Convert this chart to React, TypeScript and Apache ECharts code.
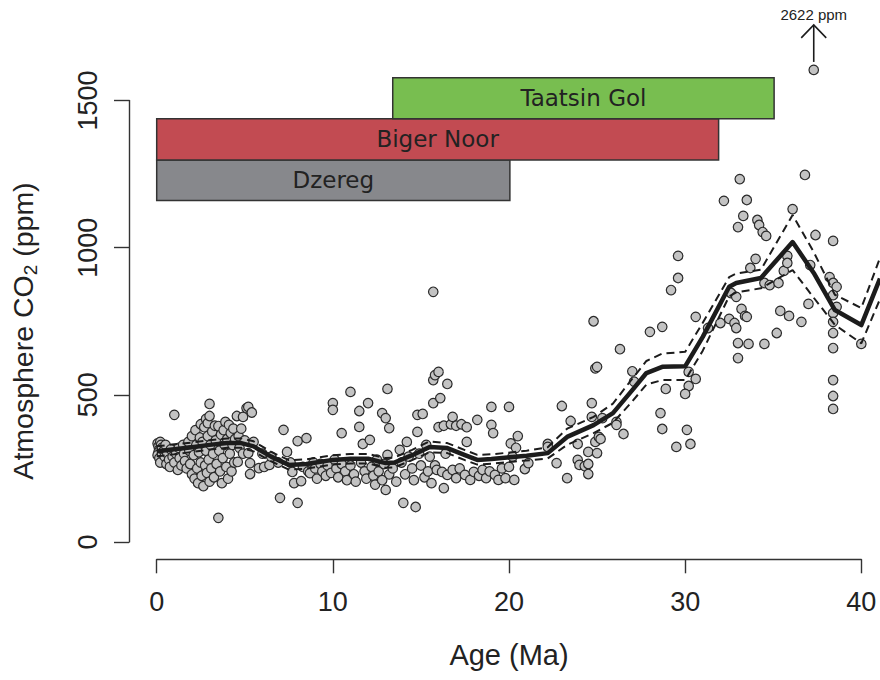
import React, { useEffect, useRef } from "react";
import * as echarts from "echarts";

// ---- data ----
const co2Points: [number, number][] = [
  [0.05, 335], [0.1, 325], [0.15, 315], [0.1, 305], [0.2, 340], [0.25, 330], [0.3, 320], [0.05, 295],
  [0.15, 285], [0.2, 270], [0.3, 300], [0.4, 310], [0.45, 290], [0.5, 330], [0.55, 265], [0.6, 300],
  [0.7, 280], [0.75, 255], [0.8, 315], [0.9, 290], [1.0, 432], [1.0, 270], [1.1, 300], [1.2, 245],
  [1.25, 320], [1.3, 285], [1.4, 260], [1.5, 330], [1.55, 300], [1.6, 275], [1.7, 250], [1.8, 340],
  [1.85, 310], [1.9, 265], [2.0, 230], [2.0, 360], [2.1, 295], [2.15, 215], [2.2, 380], [2.25, 330],
  [2.3, 250], [2.35, 200], [2.4, 305], [2.45, 355], [2.5, 270], [2.5, 400], [2.55, 225], [2.6, 340],
  [2.65, 190], [2.7, 390], [2.75, 260], [2.8, 418], [2.8, 310], [2.85, 235], [2.9, 404], [2.9, 360],
  [2.95, 280], [3.0, 469], [3.0, 428], [3.0, 205], [3.05, 330], [3.1, 250], [3.15, 375], [3.2, 300],
  [3.25, 220], [3.3, 395], [3.35, 345], [3.4, 265], [3.5, 394], [3.5, 82], [3.55, 310], [3.6, 240],
  [3.65, 365], [3.7, 200], [3.75, 285], [3.8, 380], [3.85, 330], [3.9, 408], [3.95, 255], [4.0, 350],
  [4.05, 215], [4.1, 398], [4.15, 300], [4.2, 370], [4.25, 240], [4.3, 330], [4.35, 385], [4.4, 270],
  [4.45, 350], [4.55, 428], [4.6, 272], [4.65, 360], [4.7, 320], [4.8, 385], [4.9, 425], [4.9, 300],
  [5.0, 345], [5.1, 455], [5.2, 459], [5.2, 302], [5.3, 231], [5.3, 268], [5.4, 440], [5.5, 340],
  [5.8, 251], [6.1, 255], [6.4, 262], [6.0, 300], [6.5, 290], [6.9, 270], [7.0, 150], [7.2, 381],
  [7.4, 306], [7.6, 270], [7.7, 238], [7.8, 200], [8.0, 133], [8.0, 343], [8.2, 207], [8.5, 353],
  [8.3, 255], [8.6, 240], [8.7, 234], [8.9, 270], [9.0, 250], [9.1, 215], [9.3, 265], [9.4, 240],
  [9.6, 225], [9.7, 260], [9.9, 235], [10.0, 472], [10.0, 449], [10.1, 280], [10.2, 250], [10.3, 220],
  [10.5, 370], [10.5, 265], [10.7, 240], [10.8, 210], [11.0, 510], [11.0, 260], [11.2, 230], [11.3, 205],
  [11.5, 445], [11.5, 391], [11.6, 270], [11.7, 333], [11.8, 240], [11.9, 215], [12.0, 472], [12.1, 347],
  [12.2, 255], [12.3, 225], [12.4, 195], [12.5, 280], [12.6, 240], [12.8, 438], [12.8, 210], [12.9, 265],
  [13.0, 421], [13.0, 177], [13.1, 520], [13.1, 296], [13.2, 387], [13.2, 230],
  [13.4, 250], [13.6, 205], [13.8, 313], [13.9, 270], [14.0, 133], [14.1, 230], [14.2, 340], [14.3, 290],
  [14.5, 250], [14.6, 210], [14.7, 119], [14.8, 432], [14.8, 374], [14.9, 300], [15.0, 260], [15.1, 435],
  [15.2, 220], [15.3, 330], [15.4, 240], [15.5, 290], [15.6, 200], [15.7, 850], [15.7, 550], [15.7, 472],
  [15.8, 567], [15.8, 260], [15.9, 245], [16.0, 578], [16.0, 390], [16.1, 489], [16.2, 238], [16.3, 183],
  [16.3, 395], [16.4, 300], [16.5, 537], [16.5, 228], [16.7, 400], [16.8, 425], [16.8, 245], [17.0, 395],
  [17.0, 217], [17.2, 250], [17.3, 400], [17.5, 228], [17.6, 340], [17.6, 390], [17.8, 211], [18.0, 238],
  [18.2, 415], [18.3, 225], [18.5, 245], [18.7, 217], [18.9, 240], [19.0, 459], [19.0, 398], [19.1, 370],
  [19.2, 228], [19.4, 211], [19.6, 250], [19.8, 217], [20.0, 459], [20.0, 255], [20.1, 335], [20.2, 290],
  [20.3, 211], [20.4, 320], [20.5, 360], [20.9, 248], [21.1, 268],
  [22.2, 333], [22.2, 323], [22.7, 268], [23.0, 462], [23.3, 217], [23.5, 411], [23.9, 333], [23.9, 279],
  [24.0, 262], [24.3, 258], [24.5, 265], [24.5, 231], [24.5, 306], [24.7, 472], [24.7, 425], [24.8, 750],
  [24.9, 340], [24.9, 590], [25.0, 302], [25.0, 595], [25.1, 357], [25.2, 350], [25.3, 421], [26.1, 408],
  [26.1, 398], [26.3, 655], [26.5, 367], [27.0, 580], [27.1, 545],
  [28.0, 714], [28.7, 731], [29.6, 972], [29.6, 897], [29.2, 856], [28.9, 520], [28.6, 438], [28.7, 384],
  [30.1, 381], [29.5, 323], [30.3, 333], [30.2, 578], [30.6, 554], [30.2, 530], [30.0, 503], [30.6, 765],
  [31.3, 727], [32.0, 744], [32.5, 758], [32.8, 744], [32.9, 727], [32.6, 846], [32.9, 833], [33.2, 792],
  [33.4, 768], [33.5, 765], [33.0, 676], [33.6, 673], [33.0, 625], [32.2, 1159], [33.1, 1233], [33.5, 1162],
  [33.3, 1108], [33.0, 1070], [34.1, 1094], [34.2, 1077], [34.4, 1053], [34.6, 1040], [34.0, 962], [33.7, 931],
  [34.5, 673], [35.2, 710], [35.4, 785], [35.9, 768], [36.6, 748], [35.6, 921], [34.5, 880], [34.8, 873],
  [35.3, 880], [35.8, 972], [35.8, 948], [36.1, 1131], [36.8, 1247], [37.4, 1043], [37.0, 809], [37.1, 941],
  [38.4, 1023], [38.2, 900], [38.4, 880], [38.6, 867], [38.4, 839], [38.6, 799], [38.4, 778], [38.4, 748],
  [38.4, 710], [38.4, 659], [38.4, 550], [38.4, 496], [38.4, 452], [40.0, 673], [37.3, 1604],
];

const fitAges = [0, 1, 2, 3, 4, 4.8, 5.5, 6.5, 7.5, 8.5, 10, 11, 12, 13, 13.5, 14.5, 15.5, 16.5, 17.5, 18.2,
  19, 20.2, 21, 22.2, 23.3, 24.8, 25.9, 27, 27.8, 28.7, 30, 31, 32.5, 32.9, 34.3, 36.1, 37.3, 38.5, 40, 41.06];
const fitMid = [308, 315, 322, 330, 336, 336, 325, 290, 262, 265, 279, 283, 283, 268, 270, 295, 323, 319, 295, 279,
  282, 289, 293, 302, 357, 397, 438, 516, 574, 595, 597, 697, 867, 880, 897, 1019, 914, 788, 737, 895];
const fitUpper = [325, 332, 338, 346, 352, 352, 342, 306, 278, 281, 295, 299, 299, 285, 287, 313, 342, 336, 312, 296,
  298, 305, 310, 322, 385, 425, 470, 555, 615, 640, 646, 745, 900, 912, 925, 1111, 985, 840, 795, 965];
const fitLower = [291, 298, 306, 314, 320, 320, 308, 274, 246, 249, 263, 267, 267, 252, 254, 278, 305, 302, 278, 263,
  266, 273, 277, 284, 330, 370, 405, 478, 535, 550, 550, 650, 835, 848, 862, 924, 830, 738, 675, 825];

const formationNames = ["Dzereg", "Biger Noor", "Taatsin Gol"];
const formationStart = [0, 0, 13.4];
const formationEnd = [20.05, 31.9, 35.05];
const formationLow = [1160, 1298, 1438];
const formationHigh = [1298, 1438, 1577];

const outlierAge = 37.3;
const outlierArrowFrom = 1631;
const outlierArrowTo = 1757;
const outlierLabel = "2622 ppm";

const xTickInterval = 10;
const yTickInterval = 500;

// ---- styles ----
const formationColors = ["#87888c", "#c24b52", "#78be50"];
const FONT = "'Liberation Sans', Arial, Helvetica, sans-serif";
const AXIS_COLOR = "#333";
const TEXT_COLOR = "#222";

export default function App() {
  const ref = useRef<HTMLDivElement>(null);

  useEffect(() => {
    if (!ref.current) return;
    const chart = echarts.init(ref.current, undefined, { renderer: "svg" });

    const pxPerX = (861.3 - 156.7) / 40;
    const xMaxData = (880 - 156.7) / pxPerX;
    const pxPerY = (542 - 100.5) / 1500;
    const yMaxData = 542 / pxPerY;

    const option: any = {
      animation: false,
      textStyle: { fontFamily: FONT },
      grid: [
        { left: 156.7, top: 0, width: 880 - 156.7, height: 542 },
        { left: 156.7, top: 0, width: 40 * pxPerX, height: 559.3 },
        { left: 129, top: 100.5, width: 700, height: 441.5 },
      ],
      xAxis: [
        { gridIndex: 0, type: "value", min: 0, max: xMaxData, show: false },
        {
          gridIndex: 1, type: "value", min: 0, max: 40, interval: xTickInterval,
          axisLine: { show: true, onZero: false, lineStyle: { color: AXIS_COLOR, width: 1.4 } },
          axisTick: { show: true, length: 14, lineStyle: { color: AXIS_COLOR, width: 1.4 } },
          axisLabel: { fontSize: 27, margin: 29, color: TEXT_COLOR, fontFamily: FONT, formatter: (v: number) => String(v) },
          splitLine: { show: false },
          name: "Age (Ma)", nameLocation: "middle", nameGap: 81,
          nameTextStyle: { fontSize: 29, color: TEXT_COLOR, fontFamily: FONT },
        },
        { gridIndex: 2, type: "value", min: 0, max: 1, show: false },
      ],
      yAxis: [
        { gridIndex: 0, type: "value", min: 0, max: yMaxData, show: false },
        { gridIndex: 1, type: "value", min: 0, max: 1, show: false },
        {
          gridIndex: 2, type: "value", min: 0, max: 1500, interval: yTickInterval,
          axisLine: { show: true, onZero: false, lineStyle: { color: AXIS_COLOR, width: 1.4 } },
          axisTick: { show: true, length: 15, lineStyle: { color: AXIS_COLOR, width: 1.4 } },
          axisLabel: { fontSize: 27, margin: 28, rotate: 90, color: TEXT_COLOR, fontFamily: FONT, formatter: (v: number) => String(v) },
          splitLine: { show: false },
        },
      ],
      graphic: [
        {
          type: "text", x: 23, y: 331, rotation: Math.PI / 2,
          style: {
            text: "{a|Atmosphere CO}{b|2}{a| (ppm)}",
            align: "center", verticalAlign: "middle",
            textAlign: "center", textVerticalAlign: "middle",
            fill: TEXT_COLOR,
            rich: {
              a: { fontSize: 28.5, fontFamily: FONT, lineHeight: 34, fill: TEXT_COLOR, color: TEXT_COLOR },
              b: { fontSize: 19, fontFamily: FONT, lineHeight: 14, verticalAlign: "bottom", fill: TEXT_COLOR, color: TEXT_COLOR },
            },
          },
        },
      ],
      series: [
        {
          type: "scatter", xAxisIndex: 0, yAxisIndex: 0, data: co2Points,
          symbol: "circle", symbolSize: 9.5, z: 2,
          itemStyle: { color: "#c3c3c3", borderColor: "#2a2a2a", borderWidth: 1.2, opacity: 1 },
        },
        {
          type: "line", xAxisIndex: 0, yAxisIndex: 0, z: 3,
          data: fitAges.map((a, i) => [a, fitUpper[i]]), showSymbol: false, symbol: "none",
          lineStyle: { color: "#1c1c1c", width: 2, type: [8, 5] },
        },
        {
          type: "line", xAxisIndex: 0, yAxisIndex: 0, z: 3,
          data: fitAges.map((a, i) => [a, fitLower[i]]), showSymbol: false, symbol: "none",
          lineStyle: { color: "#1c1c1c", width: 2, type: [8, 5] },
        },
        {
          type: "line", xAxisIndex: 0, yAxisIndex: 0, z: 4,
          data: fitAges.map((a, i) => [a, fitMid[i]]), showSymbol: false, symbol: "none",
          lineStyle: { color: "#1c1c1c", width: 4.5, join: "round" },
        },
        {
          type: "custom", xAxisIndex: 0, yAxisIndex: 0, z: 5, clip: false,
          data: formationNames.map((n, i) => [formationStart[i], formationEnd[i], formationLow[i], formationHigh[i], i]),
          renderItem: (params: any, api: any) => {
            const i = api.value(4);
            const p0 = api.coord([api.value(0), api.value(3)]);
            const p1 = api.coord([api.value(1), api.value(2)]);
            return {
              type: "group",
              children: [
                {
                  type: "rect",
                  shape: { x: p0[0], y: p0[1], width: p1[0] - p0[0], height: p1[1] - p0[1] },
                  style: { fill: formationColors[i], stroke: "#333", lineWidth: 1.5 },
                },
                {
                  type: "text",
                  style: {
                    text: formationNames[i], x: (p0[0] + p1[0]) / 2, y: (p0[1] + p1[1]) / 2,
                    align: "center", verticalAlign: "middle", textAlign: "center", textVerticalAlign: "middle",
                    fontSize: 23, fontFamily: "'DejaVu Sans', sans-serif", fill: "#222",
                  },
                },
              ],
            };
          },
        },
        {
          type: "custom", xAxisIndex: 0, yAxisIndex: 0, z: 5, clip: false,
          data: [[outlierAge, outlierArrowFrom, outlierArrowTo]],
          renderItem: (params: any, api: any) => {
            const a = api.coord([api.value(0), api.value(1)]);
            const b = api.coord([api.value(0), api.value(2)]);
            return {
              type: "group",
              children: [
                { type: "line", shape: { x1: a[0], y1: a[1], x2: b[0], y2: b[1] }, style: { stroke: "#1c1c1c", lineWidth: 1.6 } },
                {
                  type: "polyline",
                  shape: { points: [[b[0] - 12.5, b[1] + 13], [b[0], b[1]], [b[0] + 12.5, b[1] + 13]] },
                  style: { stroke: "#1c1c1c", lineWidth: 1.6, fill: "none" },
                },
                {
                  type: "text",
                  style: {
                    text: outlierLabel, x: b[0], y: b[1] - 10,
                    align: "center", verticalAlign: "middle", textAlign: "center", textVerticalAlign: "middle",
                    fontSize: 15, fontFamily: FONT, fill: "#222",
                  },
                },
              ],
            };
          },
        },
      ],
    };

    chart.setOption(option);
    return () => chart.dispose();
  }, []);

  return (
    <div
      ref={ref}
      style={{ position: "absolute", left: 0, top: 0, width: 880, height: 680, background: "#fff" }}
    />
  );
}
